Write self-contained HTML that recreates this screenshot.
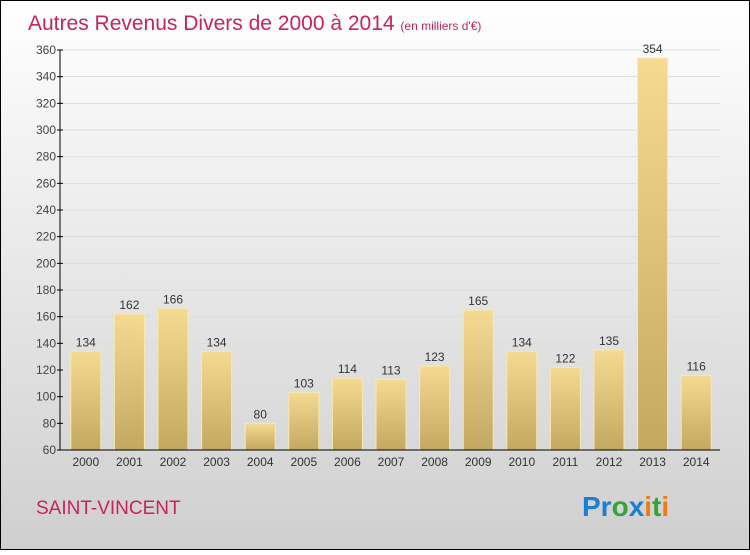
<!DOCTYPE html>
<html><head><meta charset="utf-8"><style>
body{margin:0}
#c{width:750px;height:550px;position:relative;font-family:"Liberation Sans",sans-serif}
</style></head><body>
<div id="c">
<svg id="s" width="750" height="550" xmlns="http://www.w3.org/2000/svg">
<defs>
<linearGradient id="bg" x1="0" y1="0" x2="0" y2="1"><stop offset="0" stop-color="#ffffff"/><stop offset="1" stop-color="#cfcfcf"/></linearGradient>
<linearGradient id="bar" x1="0" y1="0" x2="0" y2="1"><stop offset="0" stop-color="#f4da92"/><stop offset="1" stop-color="#c2a860"/></linearGradient>
</defs>
<rect x="0.5" y="0.5" width="749" height="549" fill="url(#bg)" stroke="#000"/>
<text x="28" y="30" font-size="21" fill="#c8245a">Autres Revenus Divers de 2000 à 2014 <tspan font-size="12">(en milliers d'€)</tspan></text>
<g id="grid"></g><g id="bars"></g><g id="axes"></g>
<text x="36" y="514" font-size="19" fill="#c8245a">SAINT-VINCENT</text>
<text x="582" y="516" font-size="28" font-weight="bold"><tspan fill="#1a7fd6">Pr</tspan><tspan fill="#3aa03a">o</tspan><tspan fill="#1a7fd6">x</tspan><tspan fill="#f07a10">i</tspan><tspan fill="#3aa03a">t</tspan><tspan fill="#f07a10">i</tspan></text>
</svg></div>
<script>
const years=["2000","2001","2002","2003","2004","2005","2006","2007","2008","2009","2010","2011","2012","2013","2014"];
const values=[134,162,166,134,80,103,114,113,123,165,134,122,135,354,116];
const yTicks=[60,80,100,120,140,160,180,200,220,240,260,280,300,320,340,360];
const NS="http://www.w3.org/2000/svg";
const x0=60,x1=720,yb=450,yt=50,ymin=60,ymax=360;
const y=v=>yb-(v-ymin)/(ymax-ymin)*(yb-yt);
const step=(x1-x0-6)/years.length;
const xc=i=>x0+4+step*(i+0.5);
function mk(t,a,p){const e=document.createElementNS(NS,t);for(const k in a)e.setAttribute(k,a[k]);p.appendChild(e);return e;}
const G=document.getElementById('grid'),B=document.getElementById('bars'),A=document.getElementById('axes');
yTicks.forEach(v=>{
 const l=mk('line',{x1:x0,x2:x1,y1:y(v),y2:y(v),stroke:'#dddddd','stroke-width':1},G);
 
 
 const t=mk('line',{x1:x0-3,x2:x0+3,y1:y(v),y2:y(v),stroke:'#000'},A);
 
 
 const tx=mk('text',{x:x0-4,y:y(v)+4,'font-size':12,fill:'#444','text-anchor':'end'},A);
 tx.textContent=v;
 
 
});
values.forEach((v,i)=>{
 const bw=30;
 const r=mk('rect',{x:xc(i)-bw/2,y:y(v),width:bw,height:yb-y(v),fill:'url(#bar)',stroke:'#f8e8b0','stroke-width':1},B);
 
 
 const t=mk('text',{x:xc(i),y:y(v)-5,'font-size':12,fill:'#333','text-anchor':'middle'},B);
 t.textContent=v;
 
 
 const xl=mk('text',{x:xc(i),y:466,'font-size':12,fill:'#333','text-anchor':'middle'},A);
 xl.textContent=years[i];
 
 
});
const ya=mk('line',{x1:x0,x2:x0,y1:yt,y2:yb,stroke:'#000'},A);


const xa=mk('line',{x1:x0,x2:x1,y1:yb,y2:yb,stroke:'#000'},A);


</script>
</body></html>
